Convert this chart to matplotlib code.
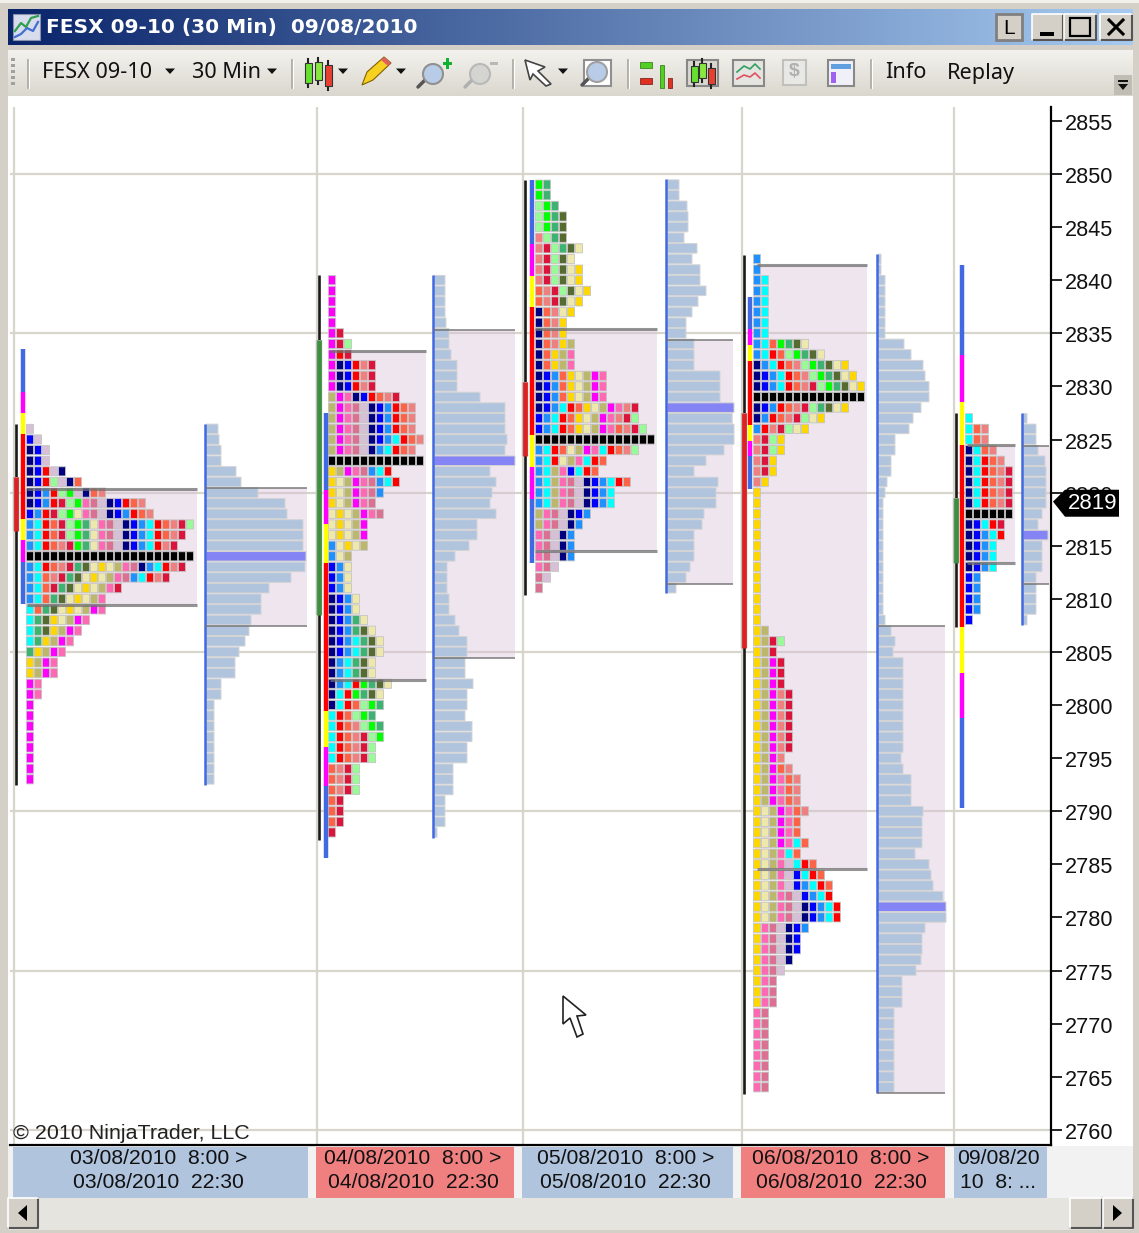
import numpy as np
import matplotlib as mpl
mpl.use("Agg")
import matplotlib.pyplot as plot
from matplotlib.colors import LinearSegmentedColormap
from matplotlib.patches import Rectangle, Polygon, Circle
from matplotlib.transforms import ScaledTranslation

mpl.rcParams['font.family'] = ['Liberation Sans', 'DejaVu Sans']

# market profile letters, top row first
top_1 = 2826
tpo_1 = ["q", "bq", "nbq", "nbq", "nbrqn", "nbrmqno", "nbdrmgqnos", "nbdrkmgilqnbros",
         "bdrkmghilqnbdros", "dcrokmgehilqnbdcroskm", "dcrokmgehilqnbdcrosk", "dcroskgehilqnbdcrsk",
         "KKKKKKKKKKKKKKKKKKKKK", "dcroskevhyhtilndcrsk", "dcoskevhyhtildcrsk", "dcokevhyhtik",
         "dcoevhyhti", "coevhyhtpi", "cevyhtpi", "cevytpi", "ceytpi", "eytpi", "ytpi", "ytpi",
         "pi", "pi", "p", "p", "p", "p", "p", "p", "p", "p"]
vol_1 = [12, 13, 15, 15, 30, 35, 52, 79, 81, 97, 97, 97, 100, 99, 85, 63, 55, 55, 45, 43, 39, 33,
         29, 29, 15, 15, 8, 8, 8, 8, 8, 8, 8, 8]
poc_1 = 2814

top_2 = 2840
tpo_2 = ["p", "p", "p", "p", "p", "pk", "pkm", "prk", "pnbrsk", "pnbrsk", "pnbrsk", "tpinbrosk",
         "tpilqnbdros", "tpilqnbdros", "tpilqnbdros", "tpilqnbdcros", "tpilqndcros", "KKKKKKKKKKKK",
         "ytpildcr", "yhtpildcr", "yhtpild", "yhtpil", "hyhtpil", "hyhtp", "hyhtp", "dhyht", "dht",
         "bdh", "bdh", "bdh", "nbdh", "nbdh", "nbdeh", "nbdevh", "nbdcevh", "nbdcevh", "ndcevh",
         "ndcevh", "ndcrgevh", "ncrgevh", "ncromge", "cromge", "crosmge", "croskmg", "croskm",
         "croskm", "oskm", "oskm", "oskm", "ok", "ok", "ok", "k"]
vol_2 = [11, 11, 11, 11, 12, 15, 15, 17, 23, 23, 23, 46, 71, 71, 71, 73, 71, 81, 56, 62, 58, 56, 62,
         43, 43, 35, 21, 13, 13, 13, 15, 15, 21, 25, 33, 33, 31, 31, 39, 33, 33, 31, 38, 38, 33, 33,
         19, 19, 19, 11, 11, 11, 3]
poc_2 = 2823

top_3 = 2849
tpo_3 = ["ge", "ge", "mge", "mgev", "mgev", "smev", "skmevh", "skmvh", "skmvhy", "skmvhy", "oskmvhy",
         "oskvhy", "noshy", "nosy", "nosy", "nosyt", "noyti", "noyti", "nbdoyhtpi", "nbdoyhtpi",
         "nbdoyhtpi", "nbdcroyhtpisk", "bdcroyhtpiskm", "bdcroyhtpioskm", "KKKKKKKKKKKKKKK",
         "dcrohtpicrosm", "dcrhticro", "dctibcro", "dctilqnbdcro", "dctilqnbdc", "dctilqnbdc",
         "tilqnbd", "tilqnd", "ilqnd", "ilqnd", "ilqnd", "ilq", "lq", "l"]
vol_3 = [12, 12, 20, 21, 21, 17, 30, 25, 33, 33, 39, 31, 25, 19, 19, 27, 27, 27, 53, 53, 53, 67, 65,
         67, 67, 57, 39, 27, 51, 49, 49, 37, 35, 27, 27, 27, 23, 19, 9]
poc_3 = 2828

top_4 = 2842
tpo_4 = ["d", "d", "dc", "dc", "dc", "dc", "dc", "dc", "dcogevh", "dcromgevh", "ndcrosmgevhy",
         "nbdcrosmgevhy", "nbdcroskmgevhy", "KKKKKKKKKKKKKK", "nbdroskmevhy", "ndroskmhy", "drskmhy",
         "skmy", "skmy", "sky", "sky", "sy", "y", "y", "y", "y", "y", "y", "y", "y", "y", "y", "y",
         "y", "y", "yt", "ytkm", "ytk", "ytpk", "ytpk", "ytpk", "ytpsk", "ytpsk", "ytpsk", "ytpsk",
         "ytpsk", "ytpsk", "ytps", "ytpos", "ytpios", "ytpios", "ytpios", "yhtpios", "yhtpio",
         "yhtpio", "yhtpico", "yhtico", "yhtiqcro", "yhtiqbcro", "yhtiqbdcro", "yhtilqbdcr",
         "yhtilqnbdcr", "yhtilqnbdcr", "yilqnbd", "yilqnb", "yilqnb", "yilqn", "yilq", "yil", "yil",
         "yil", "il", "il", "il", "il", "il", "il", "il", "il"]
vol_4 = [3, 3, 7, 7, 7, 7, 7, 7, 26, 33, 45, 47, 51, 51, 43, 35, 31, 17, 17, 13, 13, 9, 7, 5, 5, 5, 5,
         5, 5, 5, 5, 5, 5, 5, 7, 13, 17, 15, 25, 25, 25, 25, 25, 25, 25, 25, 25, 23, 25, 33, 33, 33,
         45, 44, 44, 44, 37, 51, 53, 55, 65, 68, 68, 47, 44, 44, 43, 38, 24, 24, 24, 16, 16, 16, 16,
         16, 16, 16, 16]
poc_4 = 2781

top_5 = 2827
tpo_5 = ["c", "cos", "cos", "ncos", "ncros", "ncrosk", "ncrosk", "ncrosk", "ncrosk", "KKKKKK", "nbcrk",
         "nbdcr", "nbdc", "nbdc", "nbdc", "bd", "bd", "bd", "bd", "b"]
vol_5 = [4, 13, 13, 15, 22, 23, 23, 23, 23, 19, 15, 25, 19, 19, 19, 13, 13, 13, 13, 4]
poc_5 = 2816

# value areas: tpo high/low, volume high/low
tpo_va = [(2820.3, 2809.4), (2833.3, 2802.4), (2835.4, 2814.5), (2841.4, 2784.6), (2824.5, 2813.4)]
vol_va = [(2820.4, 2807.4), (2835.3, 2804.4), (2834.4, 2811.4), (2807.4, 2763.5), (2824.4, 2811.4)]

# session high/low and the opening range
wicks = [(2826.5, 2792.5), (2840.5, 2787.3), (2849.4, 2810.4), (2842.4, 2763.4), (2827.5, 2807.3)]
ranges = [(2821.5, 2816.4), (2834.4, 2808.5), (2830.4, 2823.4), (2827.5, 2805.4), (2819.5, 2813.4)]
range_up = [False, True, False, False, True]

# standard deviation bands, edges top to bottom
bands_1 = [2833.5, 2829.5, 2827.5, 2825.5, 2817.5, 2815.5, 2813.5, 2809.5]
bands_2 = [2827.5, 2820.2, 2817.0, 2813.4, 2799.4, 2796.0, 2792.4, 2785.6]
bands_3 = [2849.4, 2843.4, 2840.4, 2837.5, 2825.4, 2822.4, 2819.4, 2813.4]
bands_4 = [2838.4, 2835.4, 2833.9, 2832.4, 2826.4, 2824.9, 2823.4, 2820.3]
bands_5 = [2841.4, 2833.0, 2828.5, 2824.5, 2807.3, 2803.0, 2798.8, 2790.3]

price_ticks = list(range(2760, 2860, 5))
last_price = 2819
session_labels = ["03/08/2010  8:00 >\n03/08/2010  22:30", "04/08/2010  8:00 >\n04/08/2010  22:30",
                  "05/08/2010  8:00 >\n05/08/2010  22:30", "06/08/2010  8:00 >\n06/08/2010  22:30",
                  "09/08/20\n10  8: ..."]

# colours and layout (x in pixels of the picture)
letter_colors = {'n': '#000080', 'b': '#0000FF', 'd': '#1E90FF', 'c': '#00FFFF', 'r': '#FF0000',
                 'o': '#FF6347', 's': '#F08080', 'k': '#DC143C', 'm': '#98FB98', 'g': '#00FF00',
                 'e': '#3CB371', 'v': '#556B2F', 'h': '#EEE8AA', 'y': '#FFD700', 't': '#BDB76B',
                 'p': '#FF00FF', 'i': '#FF69B4', 'l': '#DB7093', 'q': '#D8BFD8', 'K': '#000000'}
band_colors = ['#4169E1', '#FF00FF', '#FFFF00', '#FF0000', '#FFFF00', '#FF00FF', '#4169E1']
wick_x = [16, 318.5, 524.5, 743.5, 955.5]
band_x = [22.5, 326, 532, 750, 962]
col_x = [30, 332, 539, 757, 969]
tpo_left = [25, 328, 533, 755, 965]
tpo_right = [197, 426, 657, 867, 1015]
vol_x = [205, 433, 666, 877, 1022]
vol_right = [307, 515, 733, 945, 1049]
grid_x = [14, 317, 523, 742, 954]
box_x = [(13, 308), (316, 514), (522, 733), (741, 945), (954, 1047)]

W, H = 1139, 1233
fig = plot.figure(figsize=(W / 100, H / 100), dpi=100)
bg = fig.add_axes([0, 0, 1, 1], zorder=0)
bg.set_axis_off()


def grad(x0, x1, y0, y1, c0, c1, vertical=False):
    cmap = LinearSegmentedColormap.from_list('g', [c0, c1])
    vals = np.linspace(0, 1, 256)
    vals = vals.reshape(-1, 1) if vertical else vals.reshape(1, -1)
    bg.imshow(vals, cmap=cmap, extent=(x0, x1, y1, y0), aspect='auto', zorder=1)


def rect(x0, y0, x1, y1, fc, ec='none', lw=0, z=2):
    bg.add_patch(Rectangle((x0, y0), x1 - x0, y1 - y0, fc=fc, ec=ec, lw=lw, zorder=z))


def button(x0, y0, x1, y1):
    rect(x0, y0, x1, y1, '#D4D0C8', z=2)
    bg.plot([x0, x1, x1], [y1, y1, y0], color='#555555', lw=1.5, zorder=3)
    bg.plot([x0, x0, x1], [y1, y0, y0], color='#FFFFFF', lw=1.2, zorder=3)


def poly(pts, fc, ec='none', lw=0, z=4):
    bg.add_patch(Polygon(pts, closed=True, fc=fc, ec=ec, lw=lw, zorder=z))


def arrow_down(x, y):
    poly([(x - 5, y - 2.5), (x + 5, y - 2.5), (x, y + 3)], '#111111')


def magnifier(x, y, lens, glass='#B8CCE8', handle='#555555'):
    bg.plot([x - 15, x - 5], [y + 13, y + 3], color=handle, lw=2.5, zorder=4, solid_capstyle='round')
    bg.add_patch(Circle((x, y), 10, fc=glass, ec=lens, lw=1.5, zorder=5))


def candle(x, y0, y1, c):
    bg.plot([x, x], [y0 - 4, y1 + 4], color='#222222', lw=1.5, zorder=4)
    rect(x - 3.5, y0, x + 3.5, y1, c, ec='#333333', lw=0.8, z=5)


# window frame
rect(0, 0, W, H, '#D4D0C8', z=0)
rect(0, 0, W, 3, '#F2F0EA', z=1)
grad(8, 1133, 9, 45, '#0A246A', '#A6CAF0')
grad(8, 1133, 50, 96, '#F3F2EE', '#DAD7CE', vertical=True)
rect(8, 96, 1133, 1198, '#FFFFFF', z=1)
rect(8, 1146, 1133, 1198, '#F2F2F2', z=1)
rect(8, 1198, 1133, 1230, '#E6E4DE', z=1)

# title bar
rect(13, 14, 40, 40, '#D8DCEC', ec='#8890B0', lw=0.8)
bg.plot([15, 21, 26, 31, 38], [31, 23, 27, 18, 16], color='#30A050', lw=1.6, zorder=4)
bg.plot([15, 21, 27, 33, 38], [37, 34, 28, 31, 22], color='#4070D0', lw=1.6, zorder=4)
bg.text(46, 27, "FESX 09-10 (30 Min)  09/08/2010", color='white', fontsize=14.5, fontweight='bold',
        family='DejaVu Sans', va='center', ha='left', zorder=5)
rect(996, 14, 1022, 40, '#D4D0C8', ec='#808080', lw=2)
bg.text(1009, 28, "L", fontsize=15, family='Liberation Sans', ha='center', va='center', zorder=5)
button(1032, 14, 1063, 40)
rect(1040, 32, 1054, 36, '#000000', z=4)
button(1064, 14, 1096, 40)
rect(1070, 18, 1090, 36, 'none', ec='#000000', lw=1.6, z=4)
button(1100, 14, 1132, 40)
bg.plot([1109, 1123], [20, 34], color='black', lw=2.2, zorder=4)
bg.plot([1109, 1123], [34, 20], color='black', lw=2.2, zorder=4)

# toolbar
for gy in [58, 64, 70, 76, 82]:
    rect(11, gy, 15, gy + 3, '#A0A0A0', z=3)
for sx in [28, 292, 513, 628, 871]:
    bg.plot([sx, sx], [60, 88], color='#A8A8A0', lw=1.2, zorder=3)
    bg.plot([sx + 1.2, sx + 1.2], [60, 88], color='#FFFFFF', lw=0.8, zorder=3)
for tx, txt in [(42, "FESX 09-10"), (192, "30 Min"), (885, "Info"), (947, "Replay")]:
    bg.text(tx, 73, txt, fontsize=15.6, family='Noto Sans', color='#111111', va='center', ha='left', zorder=5)
for ax_ in [170, 272, 343, 401, 563]:
    arrow_down(ax_, 71)
candle(308, 63, 83, '#66E030')
candle(318, 62, 80, '#88E840')
candle(328, 65, 86, '#E84030')
poly([(362, 85), (367, 72), (384, 57), (391, 63), (373, 80)], '#F8D020', ec='#806000', lw=0.8)
poly([(384, 57), (391, 63), (388, 66), (381, 60)], '#E06060')
magnifier(433, 74, '#909090')
rect(443, 62, 452, 65, '#10B030', z=6)
rect(446, 58, 449, 69, '#10B030', z=6)
magnifier(480, 74, '#B8B8B8', glass='#D4D4D0', handle='#B0B0B0')
rect(490, 62, 498, 65, '#B8B8B8', z=6)
poly([(525, 60), (545, 67), (538, 71), (551, 84), (546, 86), (533, 74), (530, 80)], '#FFFFFF', ec='#444444', lw=1.2)
rect(584, 60, 611, 86, '#FFFFFF', ec='#909090', lw=1.5)
magnifier(597, 72, '#A0A0A0')
rect(640, 62, 652, 68, '#50D020', ec='#307010', lw=0.5)
rect(640, 78, 652, 84, '#E03020', ec='#701010', lw=0.5)
rect(660, 65, 664, 88, '#50D020', ec='#307010', lw=0.5)
rect(668, 78, 672, 88, '#E03020', ec='#701010', lw=0.5)
rect(687, 60, 718, 86, '#D8D8D0', ec='#888888', lw=1.5)
candle(694, 66, 82, '#66E030')
candle(702, 63, 78, '#88E840')
candle(711, 68, 84, '#E84030')
rect(733, 60, 764, 86, '#E4E4E0', ec='#888888', lw=1.5)
bg.plot([737, 744, 750, 755, 760], [72, 66, 69, 64, 69], color='#30A060', lw=1.2, zorder=4)
bg.plot([737, 744, 750, 755, 760], [79, 75, 77, 73, 78], color='#E05060', lw=1.2, zorder=4)
rect(783, 60, 806, 85, '#E8E8E4', ec='#C0C0BC', lw=1.5)
bg.text(794.5, 72, "$", fontsize=14, fontweight='bold', color='#B0B0B0', ha='center', va='center', zorder=5)
rect(828, 60, 854, 86, '#F0F0F8', ec='#888888', lw=1.5)
rect(831, 64, 851, 69, '#60A0E0', z=4)
rect(831, 72, 836, 83, '#A060F0', z=4)
rect(1114, 75, 1132, 95, '#C0BDB4', z=2)
poly([(1118, 84), (1128, 84), (1123, 90)], '#111111')
rect(1118, 80, 1128, 81.5, '#111111', z=4)

# scroll bar
button(8, 1198, 38, 1228)
poly([(27, 1205), (27, 1221), (18, 1213)], '#000000')
button(1070, 1198, 1102, 1228)
button(1103, 1198, 1133, 1228)
poly([(1113, 1205), (1113, 1221), (1122, 1213)], '#000000')

for (x0, x1), txt, i in zip(box_x, session_labels, range(5)):
    rect(x0, 1147, x1, 1198, '#F08080' if i % 2 else '#B0C4DE', z=2)
    lines = txt.split("\n")
    bg.text((x0 + x1) / 2 - 2, 1158, lines[0], fontsize=15.2, ha='center', va='center', color='#111111', zorder=5)
    bg.text((x0 + x1) / 2 - 2, 1182, lines[1], fontsize=15.2, ha='center', va='center', color='#111111', zorder=5)

bg.set_xlim(0, W)
bg.set_ylim(H, 0)

# price panel: x stays in picture pixels, y is the price scale
PX_PER_POINT = 10.62
y_top, y_bottom = 107, 1145
p_top = 2850 - (y_top - 174) / PX_PER_POINT
p_bottom = 2850 - (y_bottom - 174) / PX_PER_POINT
left, right = 10, 1051
ax = fig.add_axes([left / W, 1 - y_bottom / H, (right - left) / W, (y_bottom - y_top) / H], zorder=2)
ax.set_xlim(left, right)
ax.set_ylim(p_bottom, p_top)
ax.set_facecolor('white')
for name in ['left', 'top']:
    ax.spines[name].set_visible(False)
ax.spines['right'].set_linewidth(1.6)
ax.spines['bottom'].set_linewidth(1.6)
ax.xaxis.set_visible(False)
ax.yaxis.tick_right()
ax.set_yticks(price_ticks)
ax.tick_params(axis='y', length=8, width=1.3, pad=2, labelsize=15.6, color='#111111', labelcolor='#111111')
nudge = ScaledTranslation(0, -1.0 / 100, fig.dpi_scale_trans)
for tick in ax.yaxis.get_major_ticks():
    tick.label2.set_transform(tick.label2.get_transform() + nudge)

for p in range(2760, 2860, 15):
    ax.axhline(p, color='#D8D5CC', lw=1.6, zorder=1)
for x in grid_x:
    ax.axvline(x, color='#D8D5CC', lw=1.6, zorder=1)

sessions = [(top_1, tpo_1, vol_1, poc_1, bands_1), (top_2, tpo_2, vol_2, poc_2, bands_2),
            (top_3, tpo_3, vol_3, poc_3, bands_3), (top_4, tpo_4, vol_4, poc_4, bands_4),
            (top_5, tpo_5, vol_5, poc_5, bands_5)]

for i, (top, tpo, vol, poc, bands) in enumerate(sessions):
    prices = [top - n for n in range(len(tpo))]

    # value area shading
    ax.fill_between([tpo_left[i], tpo_right[i]], tpo_va[i][1], tpo_va[i][0], color='#D8BFD8', alpha=0.4, lw=0, zorder=1.5)
    ax.fill_between([vol_x[i], vol_right[i]], vol_va[i][1], vol_va[i][0], color='#D8BFD8', alpha=0.4, lw=0, zorder=1.5)

    # volume profile
    vol_colors = ['#8484F5' if p == poc else '#B0C4DE' for p in prices]
    bars = ax.barh(prices, vol, left=vol_x[i] + 1, height=0.9, color=vol_colors, edgecolor='#D4D4D4', linewidth=0.7, zorder=2)
    for b in bars:
        b.set_snap(False)
    ax.plot([vol_x[i], vol_x[i]], [prices[-1] - 0.5, prices[0] + 0.5], color='#4169E1', lw=1.8, zorder=3, solid_capstyle='butt')

    # letters
    for p, row in zip(prices, tpo):
        for n, letter in enumerate(row):
            cell = ax.bar(col_x[i] + n * 8, 0.86, width=7.1, bottom=p - 0.43, color=letter_colors[letter],
                          edgecolor='#C4C4C4', linewidth=0.6, zorder=3)
            cell[0].set_snap(False)

    # value area limits
    for p in tpo_va[i]:
        ax.plot([tpo_left[i] + 2, tpo_right[i]], [p, p], color='#707070', alpha=0.75, lw=2.2, zorder=4, solid_capstyle='butt')
    for p in vol_va[i]:
        ax.plot([vol_x[i], vol_right[i]], [p, p], color='#707070', alpha=0.85, lw=1.2, zorder=4, solid_capstyle='butt')

    # high/low, opening range, bands
    ax.plot([wick_x[i], wick_x[i]], wicks[i], color='#1A1A1A', lw=1.9, zorder=3, solid_capstyle='butt')
    ax.plot([wick_x[i], wick_x[i]], ranges[i], color='#BBBBBB', lw=4.6, zorder=3.1, solid_capstyle='butt')
    ax.plot([wick_x[i], wick_x[i]], ranges[i], color='#3E9040' if range_up[i] else '#DD2222', lw=3.4, zorder=3.2, solid_capstyle='butt')
    for n, c in enumerate(band_colors):
        ax.plot([band_x[i], band_x[i]], [bands[n], bands[n + 1]], color=c, lw=3.2, zorder=3.5, solid_capstyle='butt')

# last price flag over the axis labels
h = 13.5 / PX_PER_POINT
ax.add_patch(Polygon([(1053, last_price + 0.15), (1065, last_price + h), (1119, last_price + h),
                      (1119, last_price - h), (1065, last_price - h)], closed=True, fc='black', ec='none',
                     clip_on=False, zorder=6))
ax.text(1092.5, last_price, str(last_price), color='white', fontsize=16, ha='center', va='center', clip_on=False, zorder=7)

ax.text(13, 2760 - 0.35, "\u00a9 2010 NinjaTrader, LLC", fontsize=15.4, color='#222222', ha='left', va='center', zorder=6)

# mouse pointer
ax.add_patch(Polygon([(563, 2850 - (996 - 174) / PX_PER_POINT), (563, 2850 - (1024 - 174) / PX_PER_POINT),
                      (570, 2850 - (1018 - 174) / PX_PER_POINT), (577, 2850 - (1037 - 174) / PX_PER_POINT),
                      (583, 2850 - (1034 - 174) / PX_PER_POINT), (577, 2850 - (1016 - 174) / PX_PER_POINT),
                      (586, 2850 - (1015 - 174) / PX_PER_POINT)], closed=True, fc='white', ec='#222222', lw=1.2, zorder=8))

plot.savefig("out.png", dpi=100)
